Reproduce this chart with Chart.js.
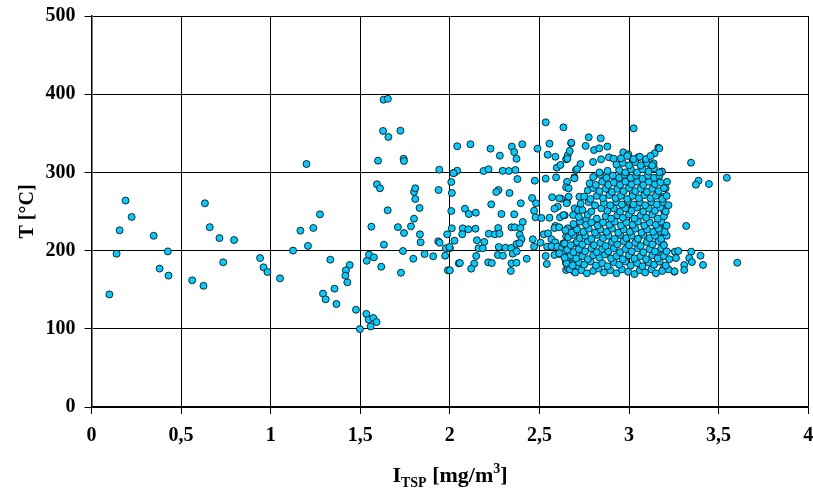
<!DOCTYPE html>
<html>
<head>
<meta charset="utf-8">
<script src="https://cdn.jsdelivr.net/npm/chart.js@4"></script>
<style>
  body { margin: 0; background: #fff; }
  #caja { position: relative; width: 813px; height: 497px; }
  #tituloX {
    position: absolute; left: 0; width: 900px; top: 461px; text-align: center;
    font: bold 22px "Liberation Serif", "Times New Roman", serif; color: #000;
  }
  #tituloX sub { font-size: 14px; vertical-align: -5px; }
  #tituloX sup { font-size: 14px; vertical-align: 9px; }
</style>
</head>
<body>
<div id="caja">
  <canvas id="myChart" width="813" height="497"></canvas>
  <div id="tituloX">I<sub>TSP</sub> [mg/m<sup>3</sup>]</div>
</div>
<script>
// tick labels (comma decimals)
const xTicks = ['0', '0,5', '1', '1,5', '2', '2,5', '3', '3,5', '4'];
const yTicks = ['0', '100', '200', '300', '400', '500'];

// [I_TSP, T] pairs
const lowTsp = [
  [0.10,144],[0.14,196],[0.157,226],[0.19,264],[0.224,243],[0.347,219],[0.38,177],[0.426,199],
  [0.43,168],[0.562,162],[0.625,155],[0.633,260.5],[0.66,230],[0.714,216],[0.735,185],[0.796,213.5],
  [0.941,190.5],[0.96,178.6],[0.982,172.6],[1.052,164.5]
];

const midTsp = [
  [1.125,200],[1.208,206],[1.166,225.5],[1.238,229],[1.275,246.4],[1.2,310.7],[1.333,188.4],[1.441,181.6],
  [1.42,174.8],[1.417,168],[1.428,159.4],[1.356,151.3],[1.292,145],[1.307,137.7],[1.367,131.7],[1.476,124.4],
  [1.498,99.7],[1.534,119],[1.547,111.7],[1.573,113.8],[1.591,108.7],[1.558,103],[1.536,187],[1.549,194.8],
  [1.576,191.4],[1.617,179.4],[1.632,207.6],[1.562,230.6],[1.653,251.5],[1.593,284.8],[1.61,279.7],[1.599,315],
  [1.627,353],[1.657,345.3],[1.724,353.3],[1.63,393],[1.654,394.2],[1.742,317.5],[1.744,314.6],[1.71,230],
  [1.744,222.5],[1.783,231],[1.8,240.8],[1.831,254.5],[1.807,266],[1.8,275],[1.807,279.7],[1.833,220.8],
  [1.837,210.6],[1.738,199.5],[1.796,189.6],[1.727,171.7],[1.859,195.6],[1.907,192.7],[1.935,211.9],[1.974,193.5],
  [1.978,203],[2.0,203],[1.985,220.8],[2.011,228.5],[2.026,212.7],[1.989,174.8],[2.0,174.8],[2.05,183.7],
  [1.937,277.5],[1.941,303.5],[2.008,287.7],[2.011,273.7],[2.008,250.6],[2.025,299.6],[2.041,302.2],[2.041,333.4],
  [1.943,210],[1.998,204.6]
];

const upperTsp = [
  [2.115,336],[2.227,330.4],[2.279,321.4],[2.346,333],[2.359,326],[2.372,317.5],[2.404,336],[2.489,330.4],
  [2.535,364],[2.556,336.7],[2.546,322.6],[2.589,320],[2.597,306],[2.617,309.5],[2.649,316.7],[2.658,321.8],
  [2.677,337.2],[2.02,299],[2.188,301.8],[2.216,304],[2.295,302],[2.329,301.8],[2.366,303],[2.377,291.5],
  [2.474,289.4],[2.535,292],[2.593,293.7],[2.271,277.5],[2.259,275],[2.333,273.7],[2.459,267.3],[2.481,260.5],
  [2.231,259.2],[2.396,260.5],[2.571,268.2],[2.621,266.4],[2.602,256.1],[2.584,253.6],[2.654,262.1],[2.084,253.6],
  [2.106,246.8],[2.145,248.5],[2.288,246.8],[2.359,246.4],[2.47,251],[2.478,242.6],[2.511,241.7],[2.556,242],
  [2.615,242.6],[2.641,245.1],[2.407,236.6],[2.589,231.5]
];

const lowerTsp = [
  [2.072,228.5],[2.103,227.2],[2.143,228],[2.27,228.9],[2.344,229.8],[2.362,229.8],[2.394,228.9],[2.069,221],
  [2.217,221.6],[2.251,220.8],[2.277,221.6],[2.39,220.3],[2.524,220.8],[2.548,222.1],[2.584,228.9],[2.61,229.8],
  [2.663,227.2],[2.151,213.2],[2.192,211],[2.4,214.5],[2.463,214.5],[2.506,210.1],[2.567,214.5],[2.588,210.6],
  [2.649,218.3],[2.16,203],[2.184,203],[2.273,204.6],[2.311,203.7],[2.342,203.3],[2.372,208.4],[2.389,209.3],
  [2.47,205],[2.543,205],[2.567,205.5],[2.6,205],[2.626,203.7],[2.65,205],[2.147,193.1],[2.136,183.3],
  [2.119,176.9],[2.056,184.1],[2.214,185],[2.234,184.1],[2.268,194.4],[2.296,193.5],[2.351,196],[2.373,199],
  [2.344,183.8],[2.372,184.5],[2.34,174],[2.429,189.6],[2.535,193.1],[2.541,182.9],[2.584,194.4],[2.612,195.7],
  [2.649,185.8],[2.677,188.9],[2.708,194.4],[2.704,209.3],[2.702,229.3],[2.688,245.5],[2.697,254],[2.663,269],
  [2.654,288],[2.695,293.7],[2.704,303],[2.63,196.5],[2.658,192.2],[2.649,183.8],[2.677,179.4],[2.649,175.2],
  [2.69,183.8],[2.713,177.4]
];

// edges of the main cloud and the points right of it
const edgeTsp = [
  [2.634,357.6],[3.026,356.3],[2.775,345],[2.842,343.6],[2.678,338],[2.758,333.8],[2.805,328.6],[2.834,330.8],
  [2.879,333],[2.669,327.4],[2.656,317.5],[2.799,313.3],[2.844,316.7],[2.888,319.3],[2.914,317.5],[2.968,325.7],
  [2.996,323.1],[3.052,319.3],[3.093,315.9],[3.143,324.4],[3.163,331.6],[3.137,311.6],[3.124,307.3],[3.182,301],
  [2.729,310.7],[2.71,304.3],[2.695,292.4],[2.649,281],[2.663,279.7],[2.611,266.9],[2.723,269],[2.652,260.5],
  [2.716,251.9],[2.76,239.1],[2.634,245.5],[2.658,228.5],[2.665,220.8],[2.699,221.6],[2.634,209.3],[2.656,205.9],
  [2.611,196.5],[2.652,190.2],[2.66,177.4],[2.695,173],[3.256,198.6],[3.253,173],
  [3.184,301],[3.212,288],[3.204,279.7],[3.191,268.5],[3.178,257],[3.2,257],[3.193,252],[3.169,229.8],
  [3.169,224.2],[3.191,207.5],[3.184,194.4],[3.193,177.4],[3.169,330.8],
  [3.346,312.4],[3.388,289.4],[3.373,284.3],[3.446,285.2],[3.546,293.2],[3.319,231.5],[3.275,199.5],[3.347,198.6],
  [3.399,193.5],[3.336,190.5],[3.351,185.4],[3.262,190.5],[3.308,181.6],[3.308,175.2],[3.254,173.5],[3.413,181.6],
  [3.604,184.5]
];

// dense cloud 2,6 - 3,2
const cloudTsp = [
  [2.67,176],[2.70,172],[2.735,175],[2.765,171],[2.80,174],[2.83,177],[2.86,172],[2.895,175],[2.93,171],[2.96,176],
  [2.995,173],[3.03,170],[3.06,175],[3.09,172],[3.125,176],[3.15,171],[3.185,174],[3.22,176],
  [2.65,184],[2.685,181],[2.72,185],[2.75,182],[2.785,186],[2.815,181],[2.85,184],[2.88,180],[2.915,185],[2.945,182],
  [2.98,186],[3.01,181],[3.045,184],[3.075,180],[3.11,185],[3.14,182],[3.17,186],[3.205,181],
  [2.64,191],[2.675,194],[2.705,190],[2.74,193],[2.77,189],[2.80,194],[2.835,191],[2.865,195],[2.90,190],[2.93,193],
  [2.965,189],[3.00,194],[3.03,190],[3.065,193],[3.095,189],[3.13,194],[3.16,190],[3.195,193],[3.225,189],
  [2.655,201],[2.69,198],[2.72,202],[2.755,199],[2.79,203],[2.82,198],[2.85,202],[2.885,199],[2.915,203],[2.95,198],
  [2.98,202],[3.015,199],[3.05,203],[3.08,198],[3.115,202],[3.145,199],[3.18,203],[3.21,199],
  [2.64,209],[2.675,207],[2.71,211],[2.74,208],[2.77,212],[2.805,207],[2.84,210],[2.87,206],[2.905,211],[2.935,208],
  [2.97,212],[3.00,207],[3.035,210],[3.065,206],[3.10,211],[3.13,208],[3.165,212],[3.195,207],
  [2.66,217],[2.69,220],[2.725,216],[2.755,219],[2.79,215],[2.82,220],[2.855,216],[2.885,219],[2.92,215],[2.95,220],
  [2.985,216],[3.015,219],[3.05,215],[3.08,220],[3.115,216],[3.145,219],[3.18,215],[3.21,219],
  [2.645,226],[2.68,223],[2.71,227],[2.745,224],[2.775,228],[2.81,223],[2.84,227],[2.875,224],[2.905,228],[2.94,223],
  [2.97,227],[3.005,224],[3.035,228],[3.07,223],[3.10,227],[3.135,224],[3.165,228],[3.20,224],
  [2.69,234],[2.725,237],[2.76,233],[2.79,236],[2.825,232],[2.855,236],[2.89,233],[2.92,237],[2.955,232],[2.985,236],
  [3.02,233],[3.05,237],[3.085,232],[3.115,236],[3.15,233],[3.18,237],[3.21,232],
  [2.72,243],[2.77,246],[2.82,241],[2.87,244],[2.90,241],[2.935,245],[2.965,242],[3.00,246],[3.03,241],[3.065,245],
  [3.095,242],[3.13,246],[3.16,241],[3.195,244],
  [2.74,252],[2.79,250],[2.845,254],[2.88,251],[2.915,254],[2.95,250],[2.98,254],[3.015,251],[3.045,255],[3.08,250],
  [3.11,254],[3.145,251],[3.175,255],[3.205,250],
  [2.73,260],[2.775,262],[2.81,258],[2.86,261],[2.895,258],[2.93,262],[2.96,259],[2.995,263],[3.025,259],[3.06,262],
  [3.09,258],[3.125,262],[3.155,259],[3.19,262],[3.22,258],
  [2.75,269],[2.785,266],[2.82,270],[2.855,267],[2.89,271],[2.925,267],[2.955,270],[2.99,266],[3.02,270],[3.055,267],
  [3.085,271],[3.12,267],[3.15,270],[3.185,266],[3.21,270],
  [2.77,277],[2.80,280],[2.835,276],[2.87,279],[2.905,275],[2.935,279],[2.97,276],[3.00,280],[3.035,276],[3.065,279],
  [3.10,275],[3.13,279],[3.165,276],[3.195,280],
  [2.78,286],[2.815,284],[2.85,288],[2.885,284],[2.915,287],[2.95,284],[2.98,288],[3.015,285],[3.045,288],[3.08,284],
  [3.11,288],[3.145,285],[3.175,287],
  [2.80,294],[2.84,297],[2.875,293],[2.91,296],[2.945,293],[2.975,297],[3.01,293],[3.04,296],[3.075,292],[3.105,296],
  [3.14,293],[3.17,296],
  [2.835,300],[2.88,302],[2.945,303],[2.98,300],[3.01,304],[3.045,300],[3.075,304],[3.11,301],[3.14,305],[3.17,300],
  [2.93,310],[2.965,312],[3.00,309],[3.035,313],[3.065,309],[3.10,312],[3.13,309],
  [2.955,318],[2.99,321],[3.025,317],[3.06,320],[3.095,317],[3.12,321]
];

const puntos = [].concat(lowTsp, midTsp, upperTsp, lowerTsp, edgeTsp, cloudTsp)
  .map(p => ({ x: p[0], y: p[1] }));

const fuente = '"Liberation Serif", "Times New Roman", serif';

const ctx = document.getElementById('myChart').getContext('2d');
const myChart = new Chart(ctx, {
  type: 'scatter',
  data: {
    datasets: [{
      data: puntos,
      backgroundColor: '#00CCFF',
      borderColor: '#000',
      borderWidth: 0.8,
      pointRadius: 3.5
    }]
  },
  options: {
    responsive: false,
    animation: false,
    layout: { padding: { top: 16, right: 4, left: 0, bottom: 0 } },
    plugins: { legend: { display: false }, tooltip: { enabled: false } },
    scales: {
      x: {
        min: 0, max: 4,
        // fixed box so the plot keeps 0..4 across the full width
        afterFit: s => { s.height = 90; s.paddingLeft = 0; s.paddingRight = 0; },
        afterBuildTicks: s => { s.ticks = xTicks.map((t, i) => ({ value: i * 0.5 })); },
        grid: { color: '#000', lineWidth: 1, tickLength: 7 },
        border: { color: '#000', width: 1.5 },
        ticks: {
          color: '#000', padding: 10, maxRotation: 0,
          font: { family: fuente, size: 20, weight: 'bold' },
          callback: (v, i) => xTicks[i]
        }
      },
      y: {
        min: 0, max: 500,
        afterFit: s => { s.width = 91.5; s.paddingTop = 0; s.paddingBottom = 0; },
        afterBuildTicks: s => { s.ticks = yTicks.map(t => ({ value: Number(t) })); },
        grid: { color: '#000', lineWidth: 1, tickLength: 7 },
        border: { color: '#000', width: 1.5 },
        title: {
          display: true, text: 'T [°C]', color: '#000', padding: { top: 16, bottom: 0 },
          font: { family: fuente, size: 20, weight: 'bold' }
        },
        ticks: {
          color: '#000', padding: 9,
          font: { family: fuente, size: 20, weight: 'bold' },
          callback: (v, i) => yTicks[i]
        }
      }
    }
  }
});
</script>
</body>
</html>
